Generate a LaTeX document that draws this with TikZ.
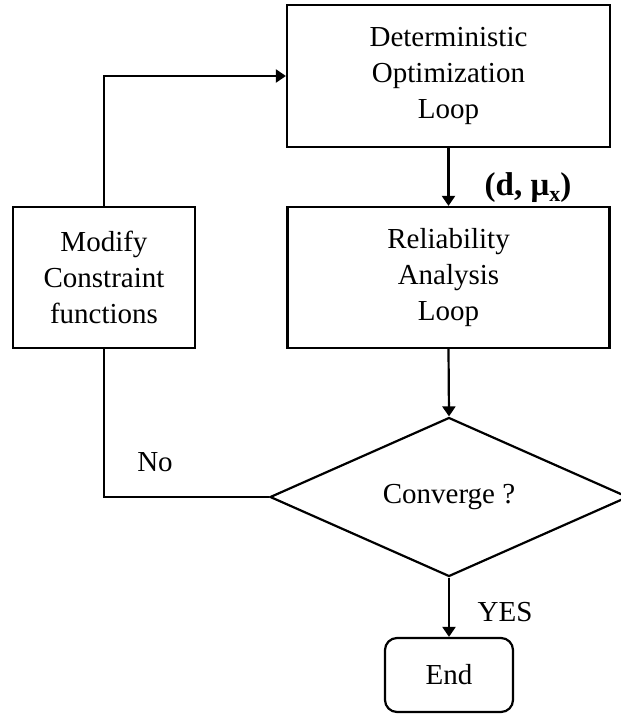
\documentclass[tikz,border=0pt]{standalone}
\usepackage{fontspec}
\setmainfont{Liberation Serif}
\usetikzlibrary{shapes.geometric,arrows.meta}
\begin{document}
\begin{tikzpicture}[x=1pt,y=-1pt,
  every node/.style={font=\fontsize{29}{36}\selectfont},
  box/.style={draw,line width=2.2pt,align=center,inner sep=0pt},
  arr/.style={line width=2.2pt,-{Triangle[length=10pt,width=13pt]}},
  ln/.style={line width=2.2pt}]
\clip (0,0) rectangle (621,715);
\useasboundingbox (0,0) rectangle (621,715);
\node[box,minimum width=323pt,minimum height=142pt] (top) at (448.5,76) {Deterministic\\Optimization\\Loop};
\node[box,minimum width=322pt,minimum height=141pt] (rel) at (448.5,277.5) {Reliability\\Analysis\\Loop};
\node[box,minimum width=182pt,minimum height=141pt] (mod) at (104,277.5) {Modify\\Constraint\\functions};
\node[draw,diamond,line width=2.2pt,inner sep=0pt,shape aspect=2.25,minimum width=358pt,minimum height=159pt] (conv) at (449,497) {Converge ?};
\node[box,rounded corners=12pt,minimum width=128pt,minimum height=74pt] (end) at (449,675) {End};
\draw[arr] (mod.north) |- (top.west);
\draw[arr] (top.south) -- (rel.north);
\draw[arr] (rel.south) -- (conv.north);
\draw[ln] (conv.west) -| (mod.south);
\draw[arr] (conv.south) -- (end.north);
\node (lno) at (155,462) {No};
\node (lyes) at (505,612) {YES};
\node (ldm) at (528,188) {\fontsize{33}{33}\selectfont\textbf{(d, μ\raisebox{-0.35ex}{\fontsize{22}{22}\selectfont x})}};
\end{tikzpicture}
\end{document}
